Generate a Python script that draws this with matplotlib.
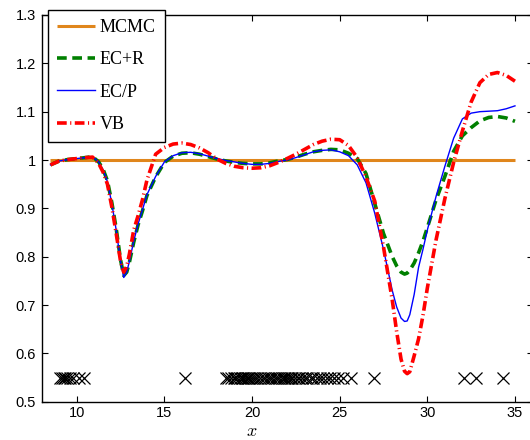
import matplotlib
matplotlib.use("Agg")
import matplotlib.pyplot as plt

plt.rcParams['mathtext.fontset'] = 'cm'
plt.rcParams['lines.scale_dashes'] = False

# ---- data ----
x_grid = [8.5, 9.0, 9.5, 10.0, 10.5, 10.9, 11.25, 11.5, 11.75, 12.0, 12.25, 12.5, 12.68,
          12.85, 13.0, 13.25, 13.5, 13.75, 14.0, 14.5, 15.0, 15.5, 16.0, 16.5, 17.0,
          17.5, 18.0, 18.5, 19.0, 19.5, 20.0, 20.5, 21.0, 21.5, 22.0, 22.5, 23.0, 23.5,
          24.0, 24.5, 25.0, 25.5, 26.0, 26.5, 27.0, 27.5, 28.0, 28.25, 28.5, 28.7,
          28.85, 29.0, 29.25, 29.5, 29.75, 30.0, 30.5, 31.0, 31.5, 32.0, 32.5, 33.0,
          33.5, 34.0, 34.5, 35.0]

mcmc_x = [8.5, 35.0]
mcmc_y = [1.0, 1.0]

ec_p = [0.990, 0.998, 1.001, 1.003, 1.005, 1.007, 0.996, 0.980, 0.955, 0.910, 0.855, 0.790, 0.757,
        0.768, 0.790, 0.832, 0.868, 0.897, 0.928, 0.966, 0.996, 1.009, 1.015, 1.016, 1.013,
        1.008, 1.003, 0.999, 0.996, 0.993, 0.991, 0.991, 0.993, 0.997, 1.000, 1.005, 1.011, 1.017,
        1.020, 1.021, 1.017, 1.009, 0.990, 0.953, 0.890, 0.815, 0.730, 0.696, 0.673, 0.666,
        0.667, 0.680, 0.722, 0.778, 0.815, 0.855, 0.925, 0.987, 1.045, 1.085, 1.097, 1.100,
        1.101, 1.102, 1.106, 1.112]

ec_r = [0.990, 0.998, 1.001, 1.003, 1.005, 1.007, 0.996, 0.981, 0.957, 0.912, 0.858, 0.793, 0.761,
        0.768, 0.788, 0.830, 0.866, 0.895, 0.926, 0.965, 0.995, 1.008, 1.014, 1.015, 1.012,
        1.007, 1.002, 0.998, 0.995, 0.993, 0.992, 0.992, 0.994, 0.998, 1.001, 1.006, 1.012, 1.017,
        1.020, 1.022, 1.021, 1.014, 1.003, 0.972, 0.910, 0.848, 0.800, 0.781, 0.768, 0.764,
        0.766, 0.772, 0.787, 0.808, 0.832, 0.860, 0.918, 0.966, 1.018, 1.050, 1.067, 1.081,
        1.088, 1.090, 1.087, 1.080]

vb = [0.990, 0.998, 1.001, 1.003, 1.005, 1.006, 0.993, 0.975, 0.950, 0.903, 0.848, 0.790, 0.768,
      0.780, 0.805, 0.855, 0.885, 0.918, 0.958, 1.012, 1.026, 1.033, 1.035, 1.032, 1.025,
      1.015, 1.002, 0.993, 0.987, 0.984, 0.983, 0.984, 0.988, 0.995, 1.003, 1.012, 1.022, 1.032,
      1.039, 1.043, 1.042, 1.030, 1.005, 0.965, 0.915, 0.820, 0.710, 0.645, 0.588, 0.563,
      0.558, 0.562, 0.595, 0.630, 0.678, 0.735, 0.835, 0.920, 0.995, 1.060, 1.120, 1.160,
      1.177, 1.181, 1.175, 1.163]

obs_x = [9.05, 9.15, 9.25, 9.35, 9.45, 9.6, 9.8, 10.1, 10.4,
         16.15,
         18.5, 18.65, 18.8, 18.95, 19.05, 19.15, 19.3, 19.4, 19.5, 19.6, 19.7, 19.75,
         19.85, 19.95, 20.05, 20.15, 20.3, 20.45, 20.6, 20.75, 20.9, 21.0, 21.15, 21.3,
         21.4, 21.55, 21.7, 21.8, 21.9, 22.0, 22.1, 22.2, 22.3, 22.45, 22.6, 22.7, 22.85,
         23.0, 23.15, 23.35, 23.5, 23.7, 23.85, 24.05, 24.25, 24.45, 24.65, 24.9,
         25.2, 25.65, 26.95, 32.1, 32.75, 34.3]
obs_level = 0.55

series_labels = ['MCMC', 'EC+R', 'EC/P', 'VB']
x_ticks = [10, 15, 20, 25, 30, 35]
y_ticks = [0.5, 0.6, 0.7, 0.8, 0.9, 1.0, 1.1, 1.2, 1.3]
y_ticklabels = ['0.5', '0.6', '0.7', '0.8', '0.9', '1', '1.1', '1.2', '1.3']

# ---- figure ----
W, H = 530, 440
fig = plt.figure(figsize=(W / 100, H / 100), dpi=100)
left_px, right_px, top_px, bot_px = 41.7, 532.5, 15.0, 401.7
ax = fig.add_axes([left_px / W, 1 - bot_px / H, (right_px - left_px) / W, (bot_px - top_px) / H])

l1, = ax.plot(mcmc_x, mcmc_y, color='#e0861c', lw=2.2, solid_capstyle='butt')
l2, = ax.plot(x_grid, ec_r, color='#008000', lw=2.6, linestyle=(0, (7, 4)))
l3, = ax.plot(x_grid, ec_p, color='#0000ff', lw=1.0)
l4, = ax.plot(x_grid, vb, color='#ff0000', lw=2.6, linestyle=(0, (7, 2.5, 0.8, 2.5)))
ax.plot(obs_x, [obs_level] * len(obs_x), linestyle='none', marker='x', color='black',
        markersize=8, markeredgewidth=0.9)

ax.set_xlim(8, 36)
ax.set_ylim(0.5, 1.3)
ax.set_xticks(x_ticks)
ax.set_yticks(y_ticks)
ax.set_yticklabels(y_ticklabels)
ax.tick_params(direction='in', length=4, width=0.8, top=True, right=True,
               labelsize=10.5, pad=4)
ax.tick_params(axis='x', pad=3)
for lab in ax.get_xticklabels() + ax.get_yticklabels():
    lab.set_family('Liberation Sans')
for s in ax.spines.values():
    s.set_linewidth(1.0)

ax.set_xlabel('$x$', fontsize=13, va='center')
ax.xaxis.set_label_coords((252 - left_px) / (right_px - left_px), (bot_px - 430.5) / (bot_px - top_px))

leg = fig.legend([l1, l2, l3, l4], series_labels, loc='upper left',
                 bbox_to_anchor=(47.7 / W, 1 - 10 / H), borderaxespad=0,
                 prop={'family': 'Liberation Serif', 'size': 13},
                 frameon=True, fancybox=False, framealpha=1, edgecolor='black',
                 handlelength=2.1, handletextpad=0.28, labelspacing=0.85,
                 borderpad=0.5)
leg.get_frame().set_linewidth(1.0)

fig.savefig('out.png', dpi=100)
